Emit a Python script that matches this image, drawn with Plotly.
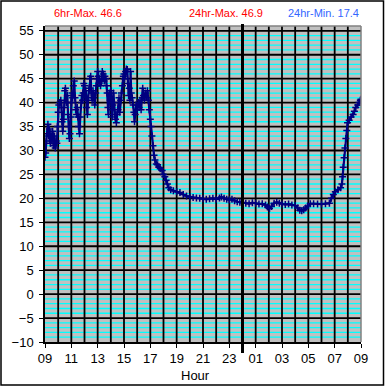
import plotly.graph_objects as go

# Hours since 00:00 of day 1 (values > 24 belong to the next day)
hours = [
    9.00, 9.05, 9.10, 9.15, 9.22, 9.28, 9.33, 9.40, 9.45, 9.52, 9.58, 9.65, 9.72, 9.78, 9.85, 9.90, 9.95,
    10.00, 10.05, 10.12, 10.20, 10.25, 10.30, 10.35, 10.40, 10.45, 10.50, 10.55, 10.62, 10.70, 10.75, 10.80,
    10.85, 10.90, 10.95, 11.00, 11.05, 11.10, 11.15, 11.22, 11.28, 11.33, 11.40, 11.45, 11.50, 11.55, 11.62,
    11.68, 11.75, 11.80, 11.85, 11.90, 11.95, 12.00, 12.05, 12.10, 12.15, 12.22, 12.28, 12.35, 12.40, 12.47,
    12.52, 12.58, 12.65, 12.70, 12.78, 12.85, 12.90, 12.95, 13.00, 13.05, 13.10, 13.15, 13.22, 13.30, 13.35,
    13.42, 13.50, 13.55, 13.62, 13.68, 13.72, 13.78, 13.82, 13.88, 13.95, 14.00, 14.05, 14.10, 14.15, 14.20,
    14.25, 14.30, 14.35, 14.42, 14.48, 14.55, 14.62, 14.68, 14.75, 14.80, 14.88, 14.95, 15.00, 15.05, 15.12,
    15.18, 15.25, 15.30, 15.35, 15.40, 15.45, 15.50, 15.55, 15.62, 15.70, 15.75, 15.80, 15.85, 15.92, 16.00,
    16.08, 16.15, 16.22, 16.30, 16.38, 16.42, 16.48, 16.55, 16.62, 16.70, 16.78, 16.85, 16.92, 17.00, 17.05,
    17.12, 17.20, 17.28, 17.35, 17.45, 17.55, 17.65, 17.75, 17.90, 18.00, 18.10, 18.20, 18.30, 18.40, 18.55,
    18.75, 19.00, 19.25, 19.50, 19.75, 20.00, 20.25, 20.50, 20.75, 21.00, 21.25, 21.50, 21.75, 22.00, 22.25,
    22.40, 22.60, 22.80, 23.00, 23.20, 23.40, 23.60, 23.80, 24.00, 24.25, 24.50, 24.75, 25.00, 25.25, 25.50,
    25.75, 25.90, 26.05, 26.20, 26.40, 26.60, 26.80, 27.00, 27.25, 27.50, 27.75, 28.00, 28.20, 28.35, 28.50,
    28.65, 28.80, 28.95, 29.15, 29.40, 29.70, 30.00, 30.30, 30.60, 30.75, 30.90, 31.05, 31.25, 31.45, 31.55,
    31.60, 31.65, 31.72, 31.78, 31.85, 31.92, 31.98, 32.10, 32.25, 32.40, 32.50, 32.60, 32.75, 32.85, 32.95,
    33.00,
]

temps = [
    28.6, 29.5, 32.0, 33.5, 35.5, 33.0, 34.5, 31.5, 33.5, 32.0, 34.0, 31.0, 33.0, 30.5, 32.0, 31.5, 35.0,
    38.0, 39.5, 40.0, 40.5, 39.0, 36.0, 34.0, 36.5, 39.0, 42.5, 43.0, 40.0, 41.5, 37.5, 35.0,
    32.5, 33.5, 37.0, 40.0, 42.0, 41.0, 43.5, 44.5, 41.0, 38.5, 37.5, 39.0, 37.0, 35.0, 33.5,
    37.0, 40.0, 41.5, 40.5, 42.0, 44.0, 43.5, 41.0, 42.5, 39.0, 37.5, 41.0, 43.0, 45.0, 45.5,
    42.0, 40.5, 42.5, 41.0, 39.5, 42.0, 43.5, 45.0, 46.5, 45.5, 44.0, 45.0, 43.5, 44.5, 46.5,
    46.0, 44.5, 45.5, 45.0, 43.5, 42.0, 39.0, 37.5, 42.0, 40.5, 42.5, 38.5, 37.0, 39.5, 42.0,
    40.0, 37.5, 36.5, 35.8, 37.5, 38.5, 41.0, 38.0, 40.5, 42.0, 43.5, 45.5, 46.0, 45.0, 46.5,
    47.0, 46.9, 44.0, 41.5, 43.0, 40.5, 46.5, 42.0, 41.0, 39.5, 38.0, 36.0, 37.5, 39.5, 38.5,
    40.0, 39.0, 40.5, 38.5, 41.0, 43.0, 41.5, 40.5, 42.0, 41.0, 42.5, 40.5, 38.5, 36.5, 35.0,
    33.0, 31.0, 29.0, 28.0, 27.2, 27.0, 26.5, 26.2, 25.8, 25.0, 24.5, 23.8, 23.0, 22.2, 21.8,
    21.6, 21.4, 21.2, 20.8, 20.5, 20.3, 20.2, 20.1, 20.0, 19.9, 19.8, 19.9, 20.0, 19.8, 20.1,
    20.3, 20.0, 19.8, 19.7, 19.8, 19.5, 19.3, 19.2, 19.1, 19.0, 18.9, 19.1, 19.0, 18.8, 18.9,
    18.6, 18.2, 17.9, 18.3, 19.0, 19.2, 19.0, 18.8, 18.7, 18.8, 18.6, 18.5, 18.0, 17.5, 17.4,
    17.6, 18.0, 18.4, 18.9, 18.9, 18.8, 18.8, 18.9, 19.0, 20.0, 20.8, 21.4, 21.8, 22.2, 23.0,
    24.5, 26.5, 28.5, 30.5, 32.5, 34.2, 35.8, 36.3, 37.0, 37.5, 38.2, 39.0, 39.5, 40.0, 40.5,
    40.7,
]

tick_hours = [9, 11, 13, 15, 17, 19, 21, 23, 25, 27, 29, 31, 33]
tick_labels = ["09", "11", "13", "15", "17", "19", "21", "23", "01", "03", "05", "07", "09"]
grid_hours = list(range(10, 33))
y_ticks = list(range(-10, 56, 5))
minor_y = [v for v in range(-9, 56) if v % 5 != 0]

stats = [
    ("6hr-Max. 46.6", "#FF0000", 0.1345),
    ("24hr-Max. 46.9", "#FF0000", 0.574),
    ("24hr-Min. 17.4", "#3366FF", 0.882),
]

W, H = 385, 388
L, R, T, B = 45, 24, 26, 46
PW, PH = W - L - R, H - T - B

fig = go.Figure()
fig.add_trace(go.Scatter(
    x=hours, y=temps, mode="lines+markers",
    line=dict(color="#000080", width=2.2),
    marker=dict(symbol="cross-thin", size=5, line=dict(color="#000080", width=1.5)),
    hoverinfo="skip", showlegend=False,
))

font = "Liberation Sans, Arial, sans-serif"

fig.update_layout(
    width=W, height=H,
    margin=dict(l=L, r=R, t=T, b=B),
    paper_bgcolor="white",
    plot_bgcolor="#C0C0C0",
    font=dict(family=font, size=13, color="black"),
    xaxis=dict(
        range=[9, 33], tickvals=tick_hours, ticktext=tick_labels,
        showgrid=False,
        ticks="outside", ticklen=4, tickcolor="black", tickwidth=1,
        showline=True, linecolor="black", linewidth=1.5,
        zeroline=False, tickfont=dict(size=13),
    ),
    yaxis=dict(
        range=[-10, 56], tickvals=y_ticks,
        showgrid=False,
        ticks="outside", ticklen=4, tickcolor="black", tickwidth=1,
        showline=True, linecolor="black", linewidth=1.5,
        zeroline=False, tickfont=dict(size=13), ticklabelstandoff=3,
    ),
)

shapes = []
# cyan minor grid
for v in minor_y:
    shapes.append(dict(type="line", xref="paper", yref="y", x0=0, x1=1, y0=v, y1=v, layer="below",
                       line=dict(color="#00FFFF", width=1.3)))
# black grid on top of cyan
for h in grid_hours:
    shapes.append(dict(type="line", xref="x", yref="paper", x0=h, x1=h, y0=0, y1=1, layer="below",
                       line=dict(color="black", width=1.8)))
for v in y_ticks[1:]:
    shapes.append(dict(type="line", xref="paper", yref="y", x0=0, x1=1, y0=v, y1=v, layer="below",
                       line=dict(color="black", width=1.8)))
# top/right plot border (gray)
shapes.append(dict(type="line", xref="paper", yref="paper", x0=0, x1=1, y0=1, y1=1,
                   line=dict(color="#808080", width=1.5)))
shapes.append(dict(type="line", xref="paper", yref="paper", x0=1, x1=1, y0=0, y1=1,
                   line=dict(color="#808080", width=1.5)))
# midnight line
shapes.append(dict(type="line", xref="x", yref="paper", x0=24, x1=24, y0=-11 / PH, y1=1 + 2 / PH,
                   line=dict(color="black", width=3)))
# outer frame
shapes.append(dict(type="rect", xref="paper", yref="paper",
                   x0=(1 - L) / PW, x1=(383.5 - L) / PW,
                   y0=-(385 - (T + PH)) / PH, y1=1 + (T - 1) / PH,
                   line=dict(color="black", width=1.5)))
fig.update_layout(shapes=shapes)

for text, color, xp in stats:
    fig.add_annotation(text=text, xref="paper", yref="paper", x=xp, y=1 + (T - 13) / PH,
                       xanchor="center", yanchor="middle", showarrow=False,
                       font=dict(family=font, size=11, color=color))

fig.add_annotation(text="Hour", xref="paper", yref="paper", x=(195.5 - L) / PW, y=-(375 - (T + PH)) / PH,
                   xanchor="center", yanchor="middle", showarrow=False,
                   font=dict(family=font, size=13, color="black"))

fig.write_html("out.html", config={"displayModeBar": False},
               post_script="document.body.style.margin='0';document.body.style.overflow='hidden';")
